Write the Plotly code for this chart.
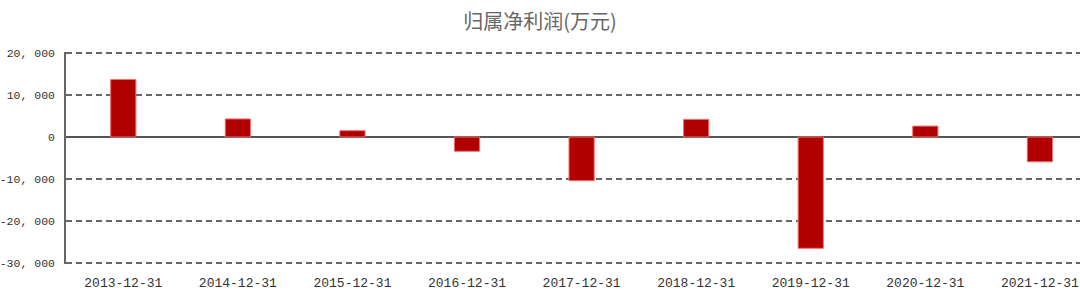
import plotly.graph_objects as go

categories = ["2013-12-31", "2014-12-31", "2015-12-31", "2016-12-31", "2017-12-31",
              "2018-12-31", "2019-12-31", "2020-12-31", "2021-12-31"]
values = [13700, 4300, 1500, -3400, -10400, 4200, -26500, 2600, -5900]
y_tickvals = [20000, 10000, 0, -10000, -20000, -30000]
y_ticktext = ["20, 000", "10, 000", "0", "-10, 000", "-20, 000", "-30, 000"]
title_text = "归属净利润(万元)"

fig = go.Figure()
fig.add_trace(go.Bar(
    x=list(range(len(categories))),
    y=values,
    width=0.22,
    marker=dict(color="#B00000", line=dict(color="#F07070", width=1)),
    showlegend=False,
))

tick_font = "Liberation Mono, DejaVu Sans Mono, monospace"
fig.update_layout(
    width=1080, height=292,
    margin=dict(l=66, r=0, t=52, b=28),
    paper_bgcolor="white", plot_bgcolor="white",
    title=dict(text=title_text, x=0.5, xanchor="center", y=0.925, yanchor="middle",
               font=dict(family="Noto Sans CJK SC, sans-serif", size=20, color="#666666")),
)
fig.update_xaxes(
    range=[-0.5, 8.35],
    tickvals=list(range(len(categories))),
    ticktext=categories,
    showgrid=False, showline=False, zeroline=False, ticks="",
    tickfont=dict(family=tick_font, size=13, color="#333333"),
    ticklabelstandoff=9, automargin=False,
)
fig.update_yaxes(
    range=[-30240, 20240],
    tickvals=y_tickvals, ticktext=y_ticktext,
    showgrid=True, gridcolor="#666666", gridwidth=1.5, griddash="6px,4px",
    zeroline=True, zerolinecolor="#555555", zerolinewidth=1.5,
    showline=True, linecolor="#666666", linewidth=1.5,
    ticks="", ticklabelstandoff=7, automargin=False,
    tickfont=dict(family=tick_font, size=11.5, color="#333333"),
)

fig.write_html("out.html")
